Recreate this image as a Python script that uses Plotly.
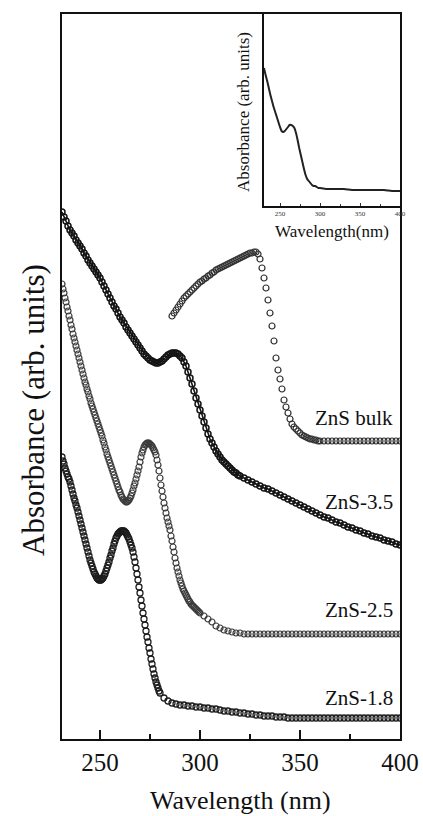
import plotly.graph_objects as go

# ---------------- data ----------------
series_names = ["ZnS-1.8", "ZnS-2.5", "ZnS-3.5", "ZnS bulk"]

wl_18 = [231 + 0.5 * i for i in range(99)] + list(range(282, 401, 2))
abs_18 = [2.82, 2.78, 2.75, 2.71, 2.68, 2.65, 2.62, 2.60, 2.57, 2.53,
          2.49, 2.45, 2.41, 2.38, 2.34, 2.31, 2.27, 2.23, 2.19, 2.15,
          2.11, 2.07, 2.03, 1.99, 1.95, 1.91, 1.87, 1.83, 1.79, 1.76,
          1.73, 1.70, 1.67, 1.65, 1.63, 1.61, 1.60, 1.59, 1.59, 1.59,
          1.60, 1.61, 1.63, 1.65, 1.68, 1.71, 1.74, 1.77, 1.81, 1.84,
          1.88, 1.91, 1.95, 1.98, 2.01, 2.03, 2.05, 2.06, 2.07, 2.08,
          2.08, 2.08, 2.08, 2.07, 2.06, 2.04, 2.02, 2.00, 1.97, 1.94,
          1.91, 1.87, 1.82, 1.77, 1.71, 1.65, 1.59, 1.52, 1.46, 1.39,
          1.33, 1.26, 1.20, 1.14, 1.08, 1.02, 0.97, 0.91, 0.86, 0.80,
          0.75, 0.70, 0.65, 0.61, 0.57, 0.54, 0.51, 0.48, 0.46,
          0.41, 0.38, 0.36, 0.35, 0.34, 0.34, 0.33, 0.33, 0.32, 0.32,
          0.31, 0.31, 0.30, 0.30, 0.29, 0.28, 0.28, 0.27, 0.27, 0.26,
          0.26, 0.25, 0.25, 0.24, 0.24, 0.23, 0.23, 0.23, 0.22, 0.22,
          0.22, 0.21, 0.21, 0.21, 0.21, 0.21, 0.21, 0.21, 0.21, 0.21,
          0.21, 0.21, 0.21, 0.21, 0.21, 0.21, 0.21, 0.21, 0.21, 0.21,
          0.21, 0.21, 0.21, 0.21, 0.21, 0.21, 0.21, 0.21, 0.21, 0.21]

wl_25 = [231 + 0.5 * i for i in range(139)] + list(range(302, 401, 2))
abs_25 = [4.55, 4.50, 4.46, 4.41, 4.37, 4.32, 4.28, 4.23, 4.19, 4.14,
          4.10, 4.05, 4.01, 3.97, 3.93, 3.89, 3.85, 3.81, 3.77, 3.73,
          3.69, 3.65, 3.61, 3.57, 3.54, 3.50, 3.47, 3.43, 3.40, 3.36,
          3.33, 3.30, 3.27, 3.24, 3.21, 3.18, 3.15, 3.12, 3.09, 3.06,
          3.03, 2.99, 2.96, 2.92, 2.89, 2.85, 2.82, 2.79, 2.76, 2.73,
          2.70, 2.67, 2.64, 2.61, 2.58, 2.55, 2.52, 2.49, 2.47, 2.44,
          2.42, 2.40, 2.39, 2.38, 2.37, 2.37, 2.38, 2.39, 2.41, 2.43,
          2.46, 2.49, 2.53, 2.56, 2.60, 2.64, 2.68, 2.72, 2.77, 2.82,
          2.86, 2.89, 2.92, 2.94, 2.95, 2.96, 2.96, 2.96, 2.95, 2.94,
          2.93, 2.91, 2.89, 2.87, 2.84, 2.79, 2.74, 2.68, 2.61, 2.54,
          2.48, 2.42, 2.36, 2.31, 2.26, 2.21, 2.17, 2.13, 2.09, 2.03,
          1.98, 1.92, 1.87, 1.81, 1.76, 1.71, 1.67, 1.63, 1.59, 1.56,
          1.53, 1.50, 1.48, 1.46, 1.44, 1.42, 1.40, 1.38, 1.37, 1.35,
          1.34, 1.33, 1.32, 1.31, 1.30, 1.29, 1.28, 1.27, 1.26,
          1.23, 1.20, 1.17, 1.13, 1.11, 1.09, 1.08, 1.07, 1.06, 1.06,
          1.05, 1.05, 1.05, 1.05, 1.05, 1.05, 1.05, 1.05, 1.05, 1.05,
          1.05, 1.05, 1.05, 1.05, 1.05, 1.05, 1.05, 1.05, 1.05, 1.05,
          1.05, 1.05, 1.05, 1.05, 1.05, 1.05, 1.05, 1.05, 1.05, 1.05,
          1.05, 1.05, 1.05, 1.05, 1.05, 1.05, 1.05, 1.05, 1.05, 1.05]

wl_35 = list(range(231, 321)) + list(range(322, 401, 2))
abs_35 = [5.27, 5.22, 5.18, 5.13, 5.09, 5.06, 5.03, 4.99, 4.96, 4.93,
          4.90, 4.86, 4.83, 4.79, 4.76, 4.73, 4.70, 4.67, 4.64, 4.61,
          4.57, 4.53, 4.49, 4.45, 4.41, 4.37, 4.33, 4.30, 4.26, 4.22,
          4.19, 4.16, 4.12, 4.09, 4.06, 4.03, 4.00, 3.97, 3.94, 3.91,
          3.88, 3.85, 3.83, 3.81, 3.79, 3.78, 3.77, 3.76, 3.76, 3.77,
          3.78, 3.80, 3.82, 3.84, 3.85, 3.86, 3.86, 3.86, 3.85, 3.83,
          3.81, 3.77, 3.73, 3.67, 3.61, 3.55, 3.48, 3.41, 3.35, 3.29,
          3.23, 3.17, 3.11, 3.05, 3.00, 2.96, 2.92, 2.88, 2.85, 2.82,
          2.79, 2.77, 2.75, 2.73, 2.71, 2.69, 2.67, 2.66, 2.64, 2.63,
          2.61, 2.59, 2.57, 2.55, 2.53, 2.51, 2.50, 2.48, 2.46, 2.44,
          2.42, 2.40, 2.38, 2.36, 2.34, 2.32, 2.30, 2.28, 2.26, 2.24,
          2.22, 2.21, 2.19, 2.17, 2.16, 2.14, 2.12, 2.11, 2.09, 2.08,
          2.06, 2.05, 2.03, 2.02, 2.01, 1.99, 1.98, 1.97, 1.95, 1.94]

wl_bulk = list(range(286, 360)) + list(range(360, 401, 2))
abs_bulk = [4.23, 4.26, 4.29, 4.32, 4.35, 4.38, 4.41, 4.43, 4.45, 4.47,
            4.49, 4.51, 4.53, 4.55, 4.57, 4.58, 4.60, 4.61, 4.63, 4.64,
            4.66, 4.67, 4.69, 4.70, 4.71, 4.72, 4.73, 4.74, 4.75, 4.76,
            4.77, 4.78, 4.79, 4.80, 4.81, 4.82, 4.83, 4.84, 4.85, 4.86,
            4.86, 4.87, 4.87, 4.85, 4.80, 4.71, 4.61, 4.51, 4.39, 4.26,
            4.13, 3.98, 3.81, 3.69, 3.60, 3.50, 3.39, 3.32, 3.26, 3.20,
            3.15, 3.12, 3.10, 3.08, 3.06, 3.04, 3.03, 3.02, 3.01, 3.00,
            3.00, 2.99, 2.99, 2.98,
            2.98, 2.98, 2.98, 2.98, 2.98, 2.98, 2.98, 2.98, 2.98, 2.98,
            2.98, 2.98, 2.98, 2.98, 2.98, 2.98, 2.98, 2.98, 2.98, 2.98, 2.98]

# inset spectrum
wl_inset = list(range(230, 301, 2)) + list(range(310, 401, 10))
abs_inset = [1.38, 1.31, 1.25, 1.18, 1.11, 1.05, 0.99, 0.94, 0.89, 0.84,
             0.79, 0.75, 0.74, 0.75, 0.77, 0.79, 0.81, 0.81, 0.80, 0.78,
             0.73, 0.66, 0.58, 0.51, 0.44, 0.37, 0.31, 0.27, 0.25, 0.23,
             0.21, 0.20, 0.20, 0.19, 0.18, 0.18,
             0.17, 0.17, 0.17, 0.16, 0.16, 0.16, 0.16, 0.16, 0.15, 0.15]

x_ticks = [250, 300, 350, 400]

# ---------------- figure ----------------
FONT = "Liberation Serif"
W, H = 423, 816
L, R, T, B = 62, 23, 14, 77
pw, ph = W - L - R, H - T - B


def px2paper(x, y):
    return (x - L) / pw, (H - B - y) / ph


fig = go.Figure()
styles = {
    "ZnS-1.8": dict(mode="markers", col="#1c1c1c", lw=1.3),
    "ZnS-2.5": dict(mode="markers", col="#3a3a3a", lw=1.2),
    "ZnS-3.5": dict(mode="lines+markers", col="#141414", lw=1.5),
    "ZnS bulk": dict(mode="markers", col="#303030", lw=1.2),
}
data = {"ZnS-1.8": (wl_18, abs_18), "ZnS-2.5": (wl_25, abs_25),
        "ZnS-3.5": (wl_35, abs_35), "ZnS bulk": (wl_bulk, abs_bulk)}
for name in series_names:
    xs, ys = data[name]
    st = styles[name]
    fig.add_trace(go.Scatter(
        x=xs, y=ys, mode=st["mode"], name=name, showlegend=False,
        line=dict(color=st["col"], width=1.6),
        marker=dict(symbol="circle-open", size=6, color=st["col"],
                    line=dict(width=st["lw"], color=st["col"])),
        xaxis="x", yaxis="y"))

fig.add_trace(go.Scatter(
    x=wl_inset, y=abs_inset, mode="lines", showlegend=False,
    line=dict(color="#222", width=2.0, shape="spline", smoothing=0.6),
    xaxis="x2", yaxis="y2"))

# inset domain
ix0, iy0 = px2paper(264, 206)

fig.update_layout(
    width=W, height=H,
    margin=dict(l=L, r=R, t=T, b=B, autoexpand=False),
    paper_bgcolor="white", plot_bgcolor="white",
    font=dict(family=FONT, color="#111"),
    xaxis=dict(domain=[0, 1], range=[231, 400], anchor="y",
               showline=True, mirror=True, linecolor="#111", linewidth=2,
               ticks="inside", ticklen=9, tickwidth=1.5, tickcolor="#111",
               tickvals=x_ticks, ticktext=[str(v) for v in x_ticks],
               tickfont=dict(size=25, family=FONT, color="#111"),
               minor=dict(ticks="inside", ticklen=5, tickwidth=1.2,
                          tickcolor="#111", tickvals=[275, 325, 375]),
               showgrid=False, zeroline=False),
    yaxis=dict(domain=[0, 1], range=[0, 7.25], anchor="x",
               showline=True, mirror=True, linecolor="#111", linewidth=2,
               ticks="", showticklabels=False, showgrid=False, zeroline=False),
    xaxis2=dict(domain=[ix0, 1], range=[230, 400], anchor="y2",
                showline=True, mirror=True, linecolor="#111", linewidth=1.8,
                ticks="inside", ticklen=3, tickwidth=1, tickcolor="#333",
                tickvals=x_ticks, ticktext=[str(v) for v in x_ticks],
                tickfont=dict(size=7, family=FONT, color="#333"),
                minor=dict(ticks="inside", ticklen=2, tickwidth=1,
                           tickcolor="#333", tickvals=[275, 325, 375]),
                showgrid=False, zeroline=False),
    yaxis2=dict(domain=[iy0, 1], range=[0, 1.92], anchor="x2",
                showline=True, mirror=True, linecolor="#111", linewidth=1.8,
                ticks="", showticklabels=False, showgrid=False, zeroline=False),
)

annotations = []
# main axis titles
ax, ay = px2paper(240, 800)
annotations.append(dict(x=ax, y=ay, xref="paper", yref="paper", showarrow=False,
                        text="Wavelength (nm)", font=dict(size=26, family=FONT, color="#111"),
                        xanchor="center", yanchor="middle"))
ax, ay = px2paper(33, 410)
annotations.append(dict(x=ax, y=ay, xref="paper", yref="paper", showarrow=False,
                        text="Absorbance (arb. units)", textangle=-90,
                        font=dict(size=31, family=FONT, color="#111"),
                        xanchor="center", yanchor="middle"))
# inset titles
ax, ay = px2paper(332, 232)
annotations.append(dict(x=ax, y=ay, xref="paper", yref="paper", showarrow=False,
                        text="Wavelength(nm)", font=dict(size=17, family=FONT, color="#111"),
                        xanchor="center", yanchor="middle"))
ax, ay = px2paper(244, 112)
annotations.append(dict(x=ax, y=ay, xref="paper", yref="paper", showarrow=False,
                        text="Absorbance (arb. units)", textangle=-90,
                        font=dict(size=17, family=FONT, color="#111"),
                        xanchor="center", yanchor="middle"))
# series labels
label_y = {"ZnS bulk": 418, "ZnS-3.5": 502, "ZnS-2.5": 610, "ZnS-1.8": 698}
for name in series_names:
    ax, ay = px2paper(395, label_y[name])
    annotations.append(dict(x=ax, y=ay, xref="paper", yref="paper", showarrow=False,
                            text=name, font=dict(size=21, family=FONT, color="#111"),
                            xanchor="right", yanchor="middle"))

fig.update_layout(annotations=annotations)

fig.write_html("out.html",
               config={"displayModeBar": False, "staticPlot": True},
               post_script="document.body.style.margin='0px';"
                           "document.body.style.overflow='hidden';")
